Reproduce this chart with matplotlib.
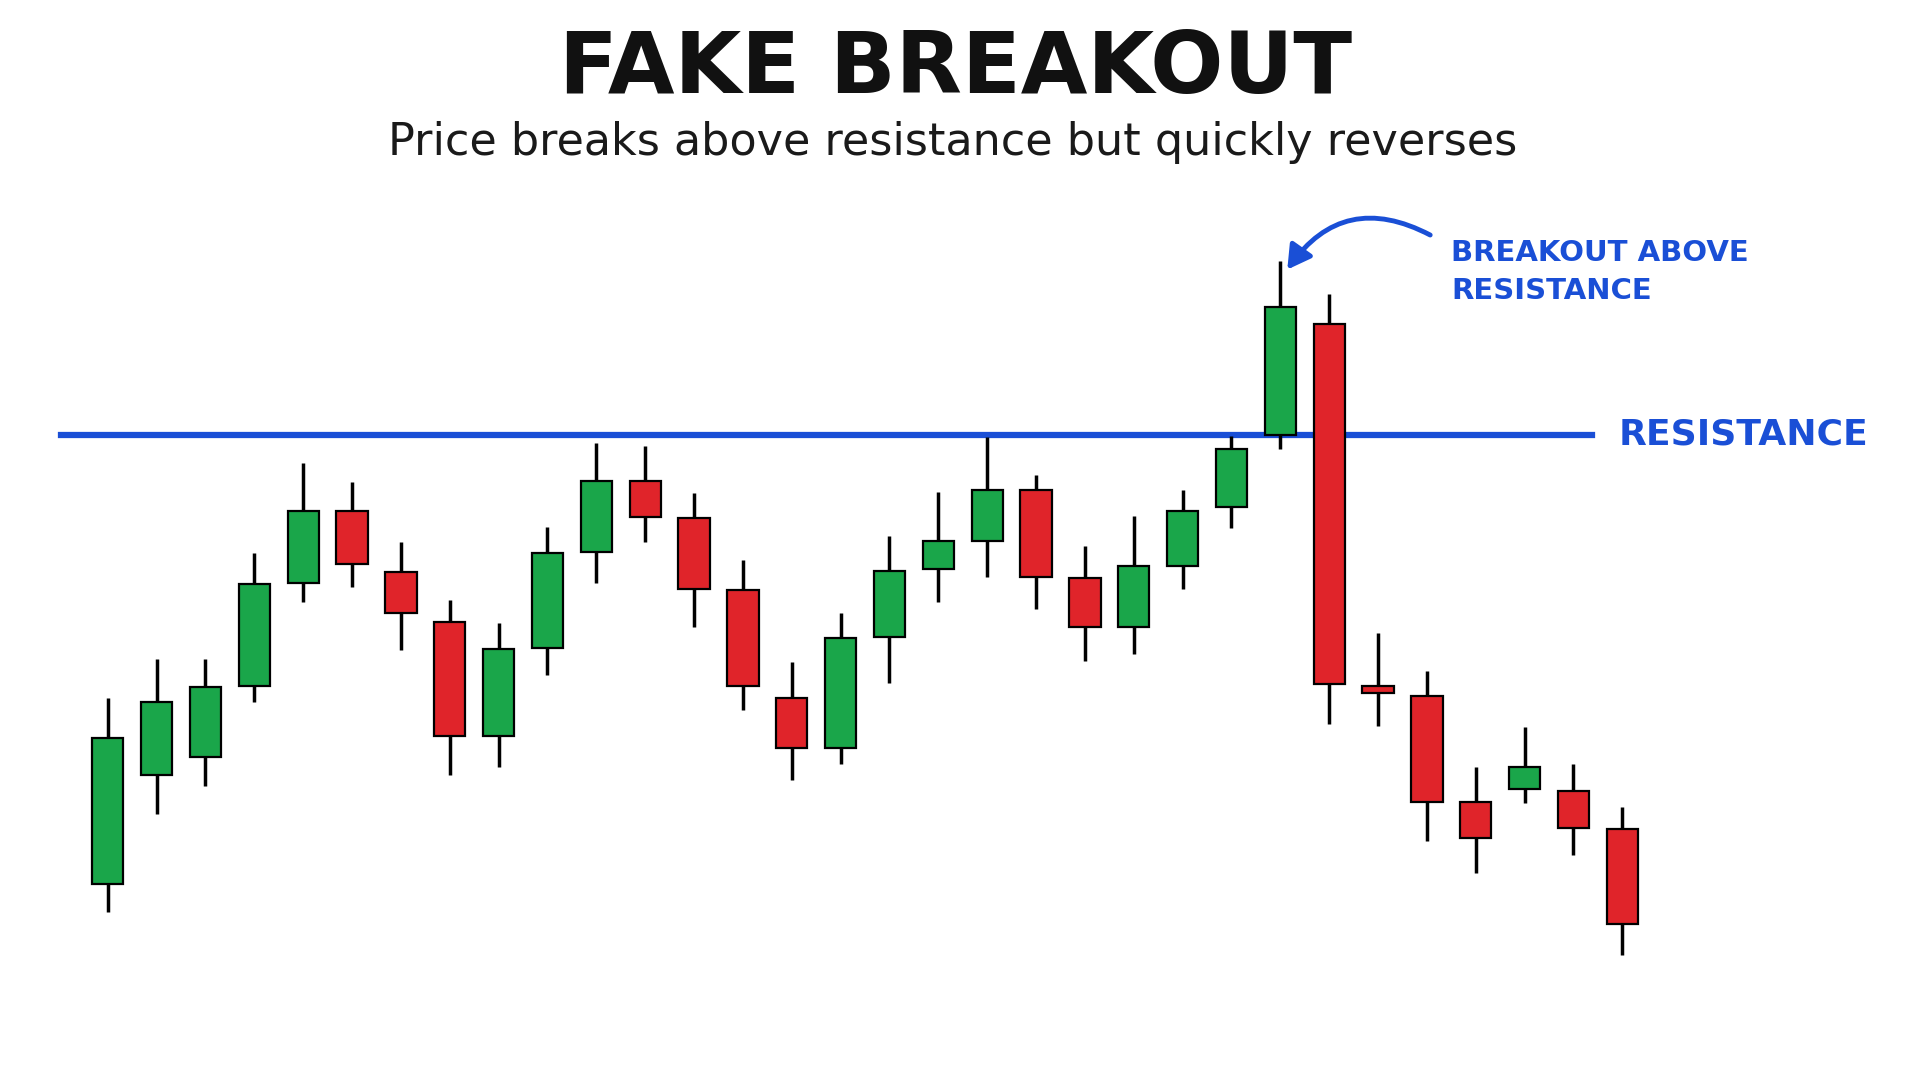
import matplotlib.pyplot as plt
from matplotlib.patches import Rectangle, FancyArrowPatch

# candle data (price units, higher = up)
opens = [160, 249, 264, 322, 406, 465, 415, 374, 281, 353, 431, 489, 459, 400, 312, 271,
         362, 417, 440, 482, 410, 370, 420, 468, 527, 617, 322, 314, 227, 238, 236, 205]
closes = [279, 309, 321, 405, 465, 421, 381, 281, 352, 430, 489, 460, 401, 322, 271, 361,
          416, 440, 482, 411, 370, 420, 465, 515, 631, 323, 316, 227, 198, 256, 206, 127]
highs = [312, 344, 344, 430, 504, 488, 439, 392, 373, 452, 520, 518, 479, 425, 341, 381,
         444, 480, 525, 494, 436, 461, 482, 526, 669, 642, 365, 334, 256, 288, 258, 223]
lows = [137, 217, 240, 309, 390, 403, 351, 249, 256, 331, 406, 439, 370, 302, 245, 258,
        324, 390, 411, 385, 342, 348, 401, 451, 515, 291, 289, 195, 169, 226, 184, 102]
resistance = 527

green = "#1aa64a"
red = "#e0242a"
blue = "#1a4fd6"

fig = plt.figure(figsize=(19.2, 10.8), dpi=100)
ax = fig.add_axes([0, 0, 1, 1])
step = 39.9
ax.set_xlim(-88 / step, (1568 - 88) / step)
ax.set_ylim(0, 882)
ax.axis("off")

def px(x):
    return (x - 88) / step

# resistance line
ax.plot([px(50), px(1300)], [resistance, resistance], color=blue, lw=4.5, zorder=1)

# candles
w = 0.64
for i, (o, c, h, l) in enumerate(zip(opens, closes, highs, lows)):
    col = green if c >= o else red
    ax.plot([i, i], [l, h], color="black", lw=2.5, zorder=2, solid_capstyle="butt")
    ax.add_patch(Rectangle((i - w / 2, min(o, c)), w, max(abs(c - o), 4),
                           facecolor=col, edgecolor="black", lw=1.6, zorder=3))

# titles
ax.text(px(780), 882 - 57, "FAKE BREAKOUT", ha="center", va="center",
        fontsize=62, fontweight="bold", color="#111111")
ax.text(px(778), 882 - 116, "Price breaks above resistance but quickly reverses",
        ha="center", va="center", fontsize=32, color="#1a1a1a")

# annotations
ax.text(px(1322), resistance, "RESISTANCE", ha="left", va="center",
        fontsize=26, fontweight="bold", color=blue)
ax.text(px(1185), 882 - 207, "BREAKOUT ABOVE", ha="left", va="center",
        fontsize=21, fontweight="bold", color=blue)
ax.text(px(1185), 882 - 238, "RESISTANCE", ha="left", va="center",
        fontsize=21, fontweight="bold", color=blue)
arrow = FancyArrowPatch((px(1170), 882 - 193), (px(1050), 882 - 222),
                        connectionstyle="arc3,rad=0.45", arrowstyle="-|>,head_length=14,head_width=8",
                        color=blue, lw=3.5, zorder=4)
ax.add_patch(arrow)

fig.savefig("out.png", dpi=100, facecolor="white")
